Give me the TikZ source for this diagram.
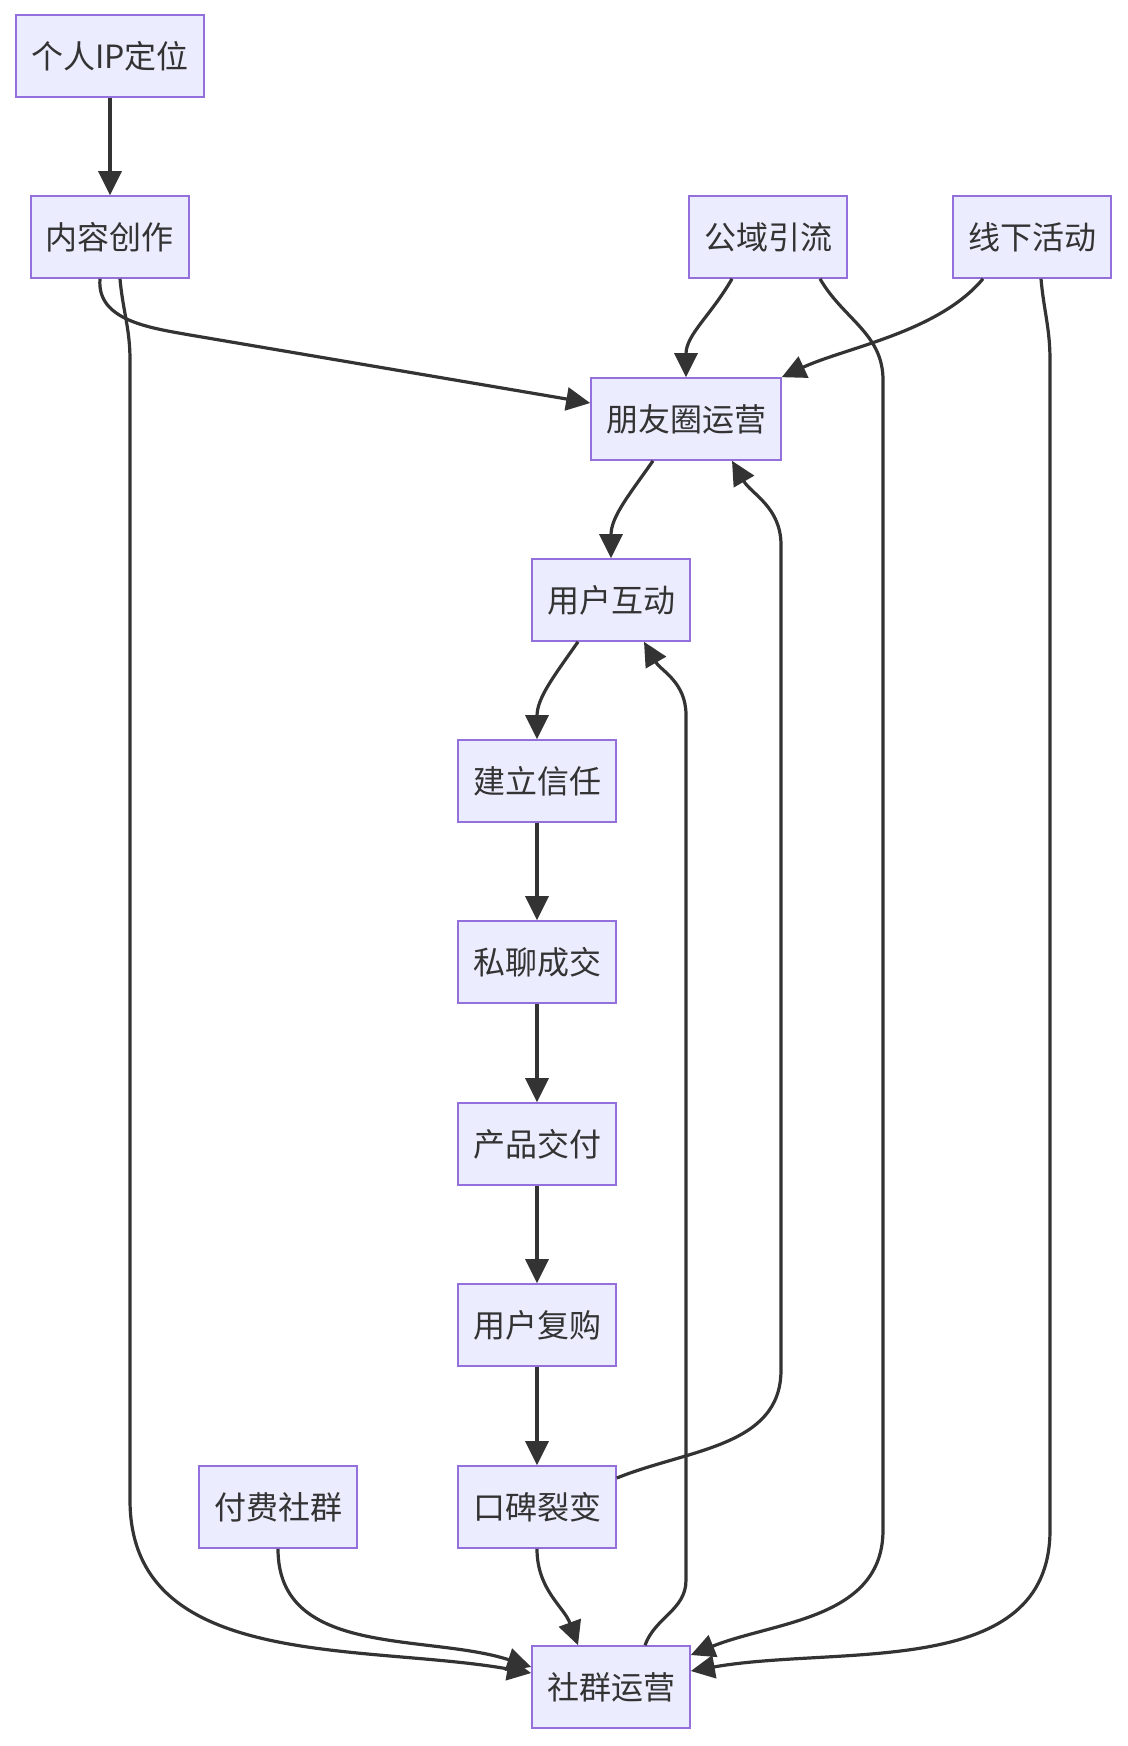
\documentclass[tikz,border=0pt]{standalone}
\usepackage{fontspec}
\setmainfont{Noto Sans CJK SC}
\usepackage{tikz}
\usepackage{xcolor}
\definecolor{flowfill}{HTML}{ECECFF}
\definecolor{flowborder}{HTML}{9370DB}
\definecolor{flowline}{HTML}{333333}
\usetikzlibrary{arrows.meta,positioning}

\begin{document}
\begin{tikzpicture}[x=0.5pt,y=-0.5pt,
    box/.style={draw=flowborder, fill=flowfill, line width=0.8pt, minimum height=41pt,
        inner xsep=7.5pt, text=flowline, font=\fontsize{16}{19}\selectfont},
    flow/.style={draw=flowline, line width=1.6pt, -{Triangle[length=12pt,width=11.5pt]}}]
    \useasboundingbox (0,0) rectangle (1128,1746);

    % Sources
    \node[box] (ip) at (110,56) {个人IP定位};
    \node[box] (content) at (110,237) {内容创作};
    \node[box] (public) at (768,237) {公域引流};
    \node[box] (offline) at (1032,237) {线下活动};

    % Main chain
    \node[box] (moments) at (686,419) {朋友圈运营};
    \node[box] (interact) at (611,600) {用户互动};
    \node[box] (trust) at (537,781) {建立信任};
    \node[box] (chat) at (537,962) {私聊成交};
    \node[box] (deliver) at (537,1144) {产品交付};
    \node[box] (rebuy) at (537,1325) {用户复购};
    \node[box] (word) at (537,1507) {口碑裂变};
    \node[box] (paid) at (278,1507) {付费社群};
    \node[box] (community) at (611,1687) {社群运营};

    % Into the moments feed
    \draw[flow] (ip) -- (content);
    \draw[flow] ([xshift=-5pt]content.south) to[out=-95,in=170] (190,335)
        -- ([yshift=8pt]moments.west);
    \draw[flow] ([xshift=-18pt]public.south) to[out=-120,in=90] (moments.north);
    \draw[flow] ([xshift=-24.5pt]offline.south) to[out=-130,in=25,looseness=0.8] (moments.north east);

    % Straight down the funnel
    \draw[flow] ([xshift=-16.5pt]moments.south) to[out=-125,in=90] (interact.north);
    \draw[flow] ([xshift=-16.5pt]interact.south) to[out=-125,in=90] (trust.north);
    \draw[flow] (trust) -- (chat);
    \draw[flow] (chat) -- (deliver);
    \draw[flow] (deliver) -- (rebuy);
    \draw[flow] (rebuy) -- (word);

    % Word of mouth back to the feed
    \draw[flow] ([yshift=14.5pt]word.east) to[out=22,in=-90] (781,1370)
        -- (781,545) to[out=90,in=-60] ([xshift=23pt]moments.south);

    % Into the community
    \draw[flow] ([xshift=5pt]content.south) to[out=-85,in=90] (130,360)
        -- (130,1500) to[out=-90,in=170] ([yshift=7pt]community.west);
    \draw[flow] (paid.south) to[out=-90,in=162] ([yshift=10pt]community.west);
    \draw[flow] (word.south) to[out=-90,in=110] ([xshift=-16.5pt]community.north);
    \draw[flow] ([xshift=26pt]public.south) to[out=-60,in=90] (883,380)
        -- (883,1530) to[out=-90,in=22] ([yshift=16pt]community.east);
    \draw[flow] ([xshift=4.5pt]offline.south) to[out=-85,in=90] (1050,360)
        -- (1050,1530) to[out=-90,in=10] ([yshift=8pt]community.east);

    % Community back to interaction
    \draw[flow] ([xshift=17pt]community.north) to[out=70,in=-90] (686,1580)
        -- (686,715) to[out=90,in=-60] ([xshift=16.5pt]interact.south);
\end{tikzpicture}
\end{document}
